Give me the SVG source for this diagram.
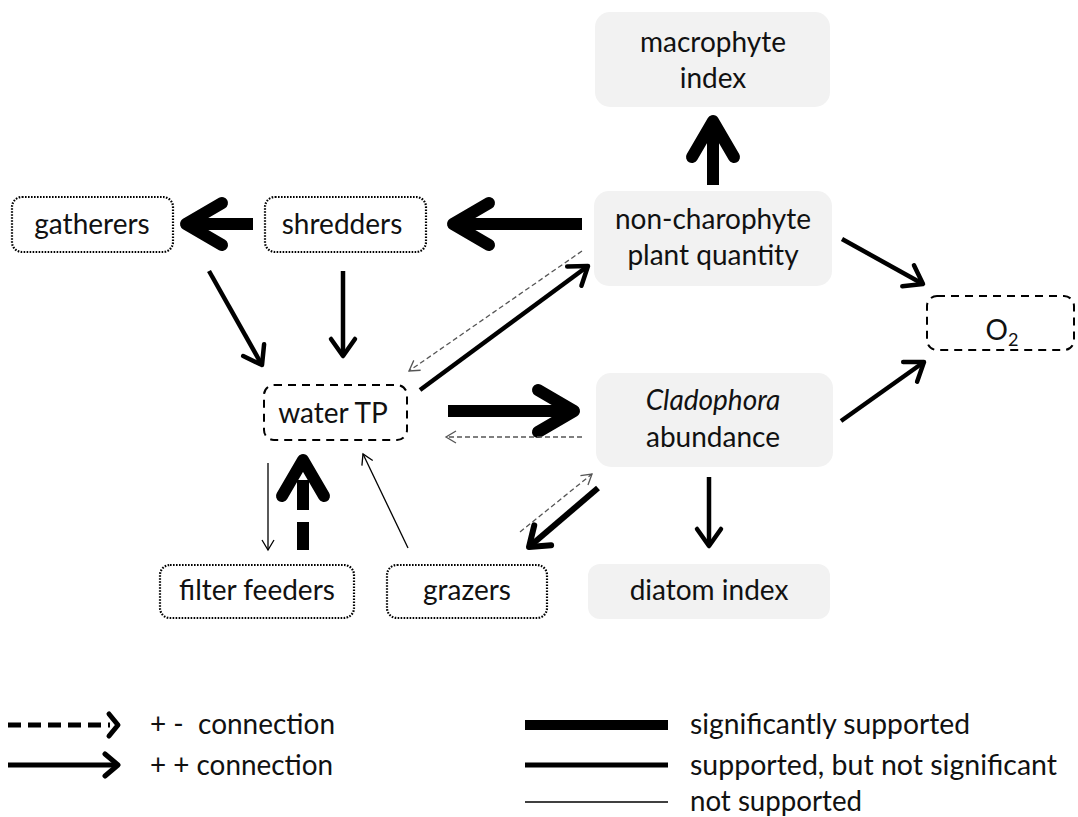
<svg xmlns="http://www.w3.org/2000/svg" width="1078" height="817" viewBox="0 0 1078 817">
<style>
.solid{fill:#f2f2f2;stroke:none}
.dot{fill:#fff;stroke:#000;stroke-width:2.2;stroke-dasharray:1.6 1.4}
.dash{fill:#fff;stroke:#000;stroke-width:2;stroke-dasharray:8 6}
text{font-family:Lato,"Liberation Sans",sans-serif;font-size:28px;fill:#111;text-anchor:middle}
.lg{text-anchor:start;font-size:28px}
.c{fill:none;stroke:#000;stroke-linecap:butt}
.w12{stroke-width:12}
.w5{stroke-width:4.5}
.w6{stroke-width:6}
.w1{stroke-width:1.3}
.gd{stroke:#555;stroke-width:1.3;stroke-dasharray:5 3}
.hd{fill:none;stroke-linecap:round;stroke-linejoin:round}
</style>
<defs>
<marker id="hL" markerUnits="userSpaceOnUse" markerWidth="60" markerHeight="60" viewBox="-50 -30 60 60" refX="0" refY="0" orient="auto" overflow="visible">
<path class="hd" d="M-36,-21 L0,0 L-36,21" stroke="#000" stroke-width="12"/>
</marker>
<marker id="hM" markerUnits="userSpaceOnUse" markerWidth="40" markerHeight="40" viewBox="-30 -20 40 40" refX="0" refY="0" orient="auto" overflow="visible">
<path class="hd" d="M-17,-12 L0,0 L-17,12" stroke="#000" stroke-width="4.5"/>
</marker>
<marker id="hM6" markerUnits="userSpaceOnUse" markerWidth="40" markerHeight="40" viewBox="-30 -20 40 40" refX="0" refY="0" orient="auto" overflow="visible">
<path class="hd" d="M-18,-13 L0,0 L-18,13" stroke="#000" stroke-width="6"/>
</marker>
<marker id="hS" markerUnits="userSpaceOnUse" markerWidth="20" markerHeight="20" viewBox="-15 -10 20 20" refX="0" refY="0" orient="auto" overflow="visible">
<path d="M-10,-6 L0,0 L-10,6" fill="none" stroke="#000" stroke-width="1.3"/>
</marker>
<marker id="hG" markerUnits="userSpaceOnUse" markerWidth="20" markerHeight="20" viewBox="-15 -10 20 20" refX="0" refY="0" orient="auto" overflow="visible">
<path d="M-10,-6 L0,0 L-10,6" fill="none" stroke="#555" stroke-width="1.3"/>
</marker>
</defs>

<g id="macrophyte">
<rect class="solid" x="595" y="12" width="235" height="95" rx="15"/>
<text x="713" y="52">macrophyte</text>
<text x="713" y="88">index</text>
</g>
<g id="noncharophyte">
<rect class="solid" x="594" y="191" width="238" height="95" rx="15"/>
<text x="713" y="229">non-charophyte</text>
<text x="713" y="265">plant quantity</text>
</g>
<g id="cladophora">
<rect class="solid" x="596" y="373" width="237" height="94" rx="15"/>
<text x="713" y="410" font-style="italic">Cladophora</text>
<text x="713" y="447">abundance</text>
</g>
<g id="diatom">
<rect class="solid" x="588" y="564" width="242" height="55" rx="12"/>
<text x="709" y="600">diatom index</text>
</g>
<g id="gatherers">
<rect class="dot" x="12" y="197" width="161" height="55" rx="10"/>
<text x="92" y="234">gatherers</text>
</g>
<g id="shredders">
<rect class="dot" x="265" y="197" width="161" height="55" rx="10"/>
<text x="342" y="234">shredders</text>
</g>
<g id="waterTP">
<rect class="dash" x="264" y="385" width="143" height="55" rx="10"/>
<text x="333" y="423">water TP</text>
</g>
<g id="O2">
<rect class="dash" x="927" y="296" width="147" height="54" rx="10"/>
<text x="1002" y="340">O<tspan font-size="18" dy="6">2</tspan></text>
</g>
<g id="filterfeeders">
<rect class="dot" x="160" y="565" width="194" height="53" rx="10"/>
<text x="257" y="600">filter feeders</text>
</g>
<g id="grazers">
<rect class="dot" x="387" y="565" width="160" height="53" rx="10"/>
<text x="467" y="600">grazers</text>
</g>

<g id="connectors">
<line class="c w12" x1="713" y1="185" x2="713" y2="121" marker-end="url(#hL)"/>
<line class="c w12" x1="582" y1="224" x2="453" y2="224" marker-end="url(#hL)"/>
<line class="c w12" x1="253" y1="224" x2="186" y2="224" marker-end="url(#hL)"/>
<line class="c w12" x1="448" y1="411" x2="574" y2="411" marker-end="url(#hL)"/>
<path class="c w12" d="M303,550 L303,460" stroke-dasharray="28 12 30 100" marker-end="url(#hL)"/>
<line class="c w5" x1="209" y1="271" x2="262" y2="365" marker-end="url(#hM)"/>
<line class="c w5" x1="343" y1="271" x2="343" y2="356" marker-end="url(#hM)"/>
<line class="c w5" x1="420" y1="390" x2="588" y2="266" marker-end="url(#hM)"/>
<line class="c w5" x1="842" y1="239" x2="923" y2="284" marker-end="url(#hM)"/>
<line class="c w5" x1="841" y1="421" x2="924" y2="362" marker-end="url(#hM)"/>
<line class="c w5" x1="709" y1="477" x2="709" y2="546" marker-end="url(#hM)"/>
<line class="c w6" x1="598" y1="488" x2="529" y2="547" marker-end="url(#hM6)"/>
<line class="c w1" x1="268" y1="463" x2="268" y2="550" marker-end="url(#hS)"/>
<line class="c w1" x1="408" y1="548" x2="363" y2="454" marker-end="url(#hS)"/>
<line class="c gd" x1="582" y1="251" x2="409" y2="371" marker-end="url(#hG)"/>
<line class="c gd" x1="582" y1="437" x2="446" y2="437" marker-end="url(#hG)"/>
<line class="c gd" x1="520" y1="532" x2="592" y2="474" marker-end="url(#hG)"/>
</g>

<g id="legend">
<line class="c" stroke-width="5" x1="8" y1="725" x2="110" y2="725" stroke-dasharray="13 7"/>
<path class="hd" d="M109,714 L118,725 L109,736" stroke="#000" stroke-width="5"/>
<line class="c" stroke-width="5" x1="8" y1="765" x2="116" y2="765"/>
<path class="hd" d="M105,754 L118,765 L105,776" stroke="#000" stroke-width="5"/>
<text class="lg" x="150" y="734" xml:space="preserve" textLength="185" lengthAdjust="spacingAndGlyphs">+ -  connection</text>
<text class="lg" x="150" y="775" textLength="183" lengthAdjust="spacingAndGlyphs">+ + connection</text>
<line class="c" stroke-width="10" x1="525" y1="725" x2="668" y2="725"/>
<line class="c" stroke-width="5" x1="525" y1="765" x2="668" y2="765"/>
<line class="c" stroke-width="1.3" x1="525" y1="802" x2="668" y2="802"/>
<text class="lg" x="690" y="734" textLength="280" lengthAdjust="spacingAndGlyphs">significantly supported</text>
<text class="lg" x="690" y="775" textLength="367" lengthAdjust="spacingAndGlyphs">supported, but not significant</text>
<text class="lg" x="690" y="811" textLength="172" lengthAdjust="spacingAndGlyphs">not supported</text>
</g>
</svg>
